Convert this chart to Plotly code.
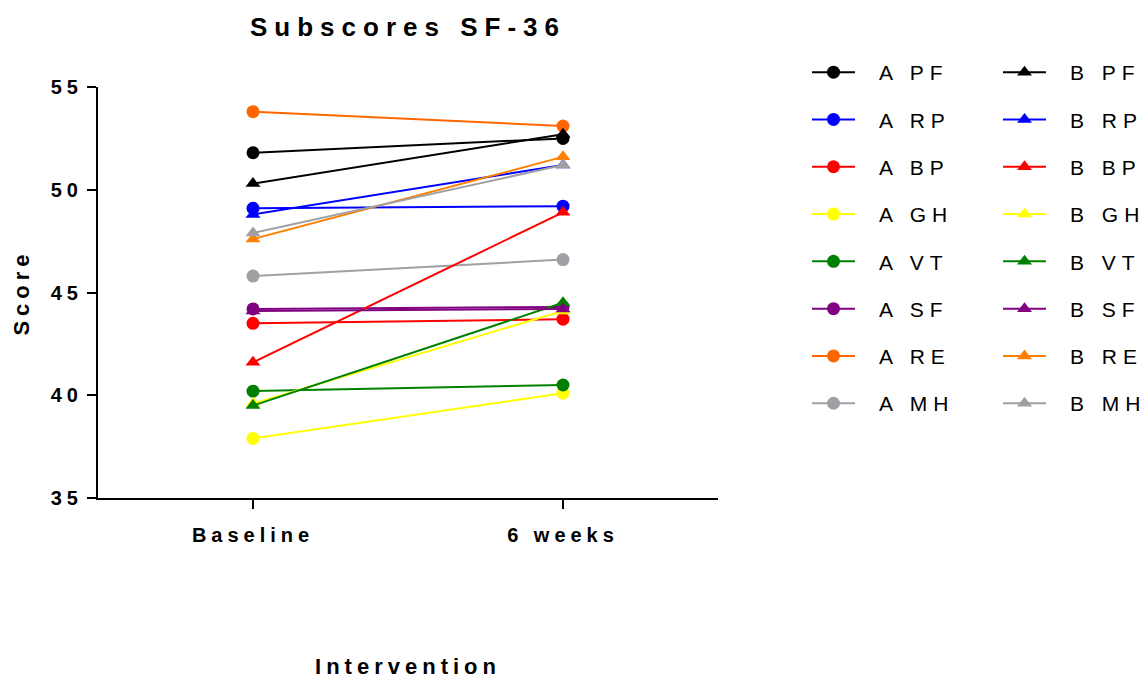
import plotly.graph_objects as go

timepoints = ["Baseline", "6 weeks"]
subscales = ["PF", "RP", "BP", "GH", "VT", "SF", "RE", "MH"]

a_baseline = [51.8, 49.1, 43.5, 37.9, 40.2, 44.2, 53.8, 45.8]
a_6weeks = [52.5, 49.2, 43.7, 40.1, 40.5, 44.3, 53.1, 46.6]
b_baseline = [50.3, 48.8, 41.6, 39.6, 39.5, 44.1, 47.6, 47.9]
b_6weeks = [52.7, 51.2, 48.9, 44.1, 44.5, 44.2, 51.6, 51.2]

a_colors = ["#000000", "#0000FF", "#FF0000", "#FFFF00", "#008000", "#800080", "#FF6600", "#A0A0A4"]
b_colors = ["#000000", "#0000FF", "#FF0000", "#FFFF00", "#008000", "#800080", "#FF8000", "#A0A0A4"]

y_ticks = [35, 40, 45, 50, 55]

fig = go.Figure()
for i, s in enumerate(subscales):
    fig.add_trace(go.Scatter(
        x=timepoints, y=[a_baseline[i], a_6weeks[i]], mode="lines+markers",
        name="A " + s, legend="legend", legendgroup="A" + s,
        line=dict(color=a_colors[i], width=2),
        marker=dict(symbol="circle", size=13, color=a_colors[i]),
    ))
for i, s in enumerate(subscales):
    fig.add_trace(go.Scatter(
        x=timepoints, y=[b_baseline[i], b_6weeks[i]], mode="lines+markers",
        name="B " + s, legend="legend2", legendgroup="B" + s,
        line=dict(color=b_colors[i], width=2),
        marker=dict(symbol="triangle-up", size=13, color=b_colors[i]),
    ))

font_fam = "Liberation Sans, Arial, sans-serif"
legend_common = dict(
    font=dict(family=font_fam, size=21, color="#000000"),
    tracegroupgap=17, bgcolor="rgba(0,0,0,0)", yanchor="top",
    orientation="v", itemsizing="trace", itemwidth=43, maxheight=650,
)
fig.update_layout(
    width=1148, height=679, autosize=False,
    margin=dict(l=98, r=430, t=87, b=181),
    paper_bgcolor="white", plot_bgcolor="white",
    title=dict(text="<b>Subscores SF-36</b>", x=408 / 1148, xanchor="center",
               y=1 - 27 / 679, yanchor="middle", yref="container",
               font=dict(family=font_fam, size=26, color="#000000")),
    xaxis=dict(type="category", range=[-0.5, 1.5], showgrid=False, zeroline=False,
               automargin=False,
               showline=True, linecolor="#000000", linewidth=2,
               ticks="outside", ticklen=9, tickwidth=2, tickcolor="#000000",
               ticklabelstandoff=9,
               tickfont=dict(family=font_fam, size=20, color="#000000", weight="bold"),
               title=dict(text="<b>Intervention</b>", standoff=124,
                          font=dict(family=font_fam, size=22, color="#000000"))),
    yaxis=dict(range=[35, 55], tickvals=y_ticks, showgrid=False, zeroline=False,
               automargin=False,
               showline=True, linecolor="#000000", linewidth=2,
               ticks="outside", ticklen=9, tickwidth=2, tickcolor="#000000",
               tickfont=dict(family=font_fam, size=20, color="#000000", weight="bold"),
               title=dict(text="<b>Score</b>", standoff=25,
                          font=dict(family=font_fam, size=22, color="#000000"))),
    legend=dict(x=(807 - 98) / 620, y=1 + (87 - 52) / 411, **legend_common),
    legend2=dict(x=(998 - 98) / 620, y=1 + (87 - 52) / 411, **legend_common),
    showlegend=True,
)

js = """
var st = document.createElement('style');
st.textContent = `
body { margin: 0; }
.gtitle { letter-spacing: 7px; }
.xtick text, .ytick text { letter-spacing: 5px; }
.xtitle, .ytitle { letter-spacing: 5px; }
text.legendtext, text.legend2text { letter-spacing: 6px; transform: translateX(19px); }
g.scrollbox { clip-path: none !important; }
`;
document.head.appendChild(st);
"""
fig.write_html("out.html", post_script=js,
               config={"responsive": False, "displayModeBar": False})
